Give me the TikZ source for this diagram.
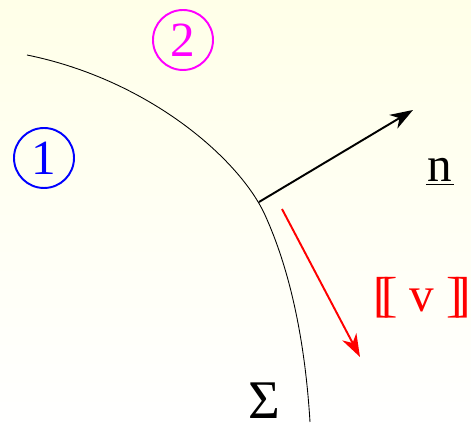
\documentclass[tikz,border=0pt]{standalone}
\usepackage{fontspec}
\setmainfont{Liberation Serif}
\usetikzlibrary{arrows.meta}
\definecolor{regionone}{RGB}{0,0,255}
\definecolor{regiontwo}{RGB}{255,0,255}
\definecolor{jumpred}{RGB}{255,0,0}

\begin{document}
\begin{tikzpicture}[
        x=0.02cm, y=-0.02cm,
        region/.style={draw, circle, line width=1.1pt, minimum size=1.2cm, inner sep=0pt, font=\fontsize{28}{30}\selectfont},
        bigtext/.style={font=\fontsize{28}{30}\selectfont, inner sep=0pt, anchor=base},
        arrow/.style={-{Stealth[length=13pt, width=9pt, inset=4pt]}, line width=1.1pt}
    ]

    % ==========================================
    % background (pale yellow to white)
    % ==========================================
    \shade[top color=yellow!9, bottom color=white] (0,0) rectangle (471,429);
    \useasboundingbox (0,0) rectangle (471,429);

    % interface Sigma
    \draw[line width=0.5pt] (27,55) .. controls (150,80) and (240,160) .. (265,215)
        .. controls (290,270) and (305,340) .. (310,422);

    % regions
    \node[region, regionone] (one) at (44,158) {1};
    \node[region, regiontwo] (two) at (183,40) {2};

    % normal and jump
    \coordinate (nfoot) at (259,202);
    \coordinate (ntip) at (413,110);
    \coordinate (vfoot) at (282,209);
    \coordinate (vtip) at (360,357);
    \draw[arrow, black] (nfoot) -- (ntip);
    \draw[arrow, jumpred] (vfoot) -- (vtip);

    \node[bigtext] (nlabel) at (440,182) {\underline{\kern1pt n\kern1pt}};
    \node[bigtext, jumpred] (vlabel) at (422,312) {[\kern-0.17em[ v ]\kern-0.17em]};
    \node[bigtext, font=\fontsize{31}{33}\selectfont] (sigma) at (264,419) {Σ};

\end{tikzpicture}
\end{document}
